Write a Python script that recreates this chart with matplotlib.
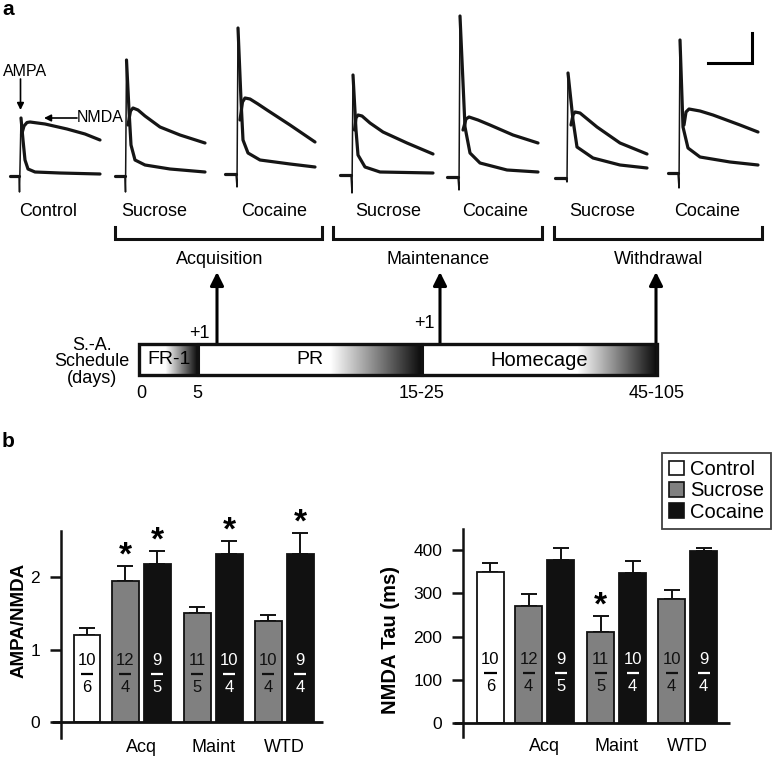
import numpy as np
import matplotlib
matplotlib.use("Agg")
import matplotlib.pyplot as plt
from matplotlib.patches import Patch, Rectangle
from matplotlib.transforms import blended_transform_factory

plt.rcParams['font.family'] = ['Liberation Sans', 'DejaVu Sans']

# ---- panel b data ----
groups = ["Control", "Sucrose", "Cocaine", "Sucrose", "Cocaine", "Sucrose", "Cocaine"]
phases = ["Acq", "Maint", "WTD"]
ampa_nmda = [1.20, 1.95, 2.18, 1.50, 2.31, 1.39, 2.31]
ampa_nmda_sem = [0.10, 0.20, 0.18, 0.09, 0.18, 0.08, 0.30]
nmda_tau = [350, 270, 378, 212, 347, 286, 398]
nmda_tau_sem = [20, 29, 27, 36, 27, 22, 7]
n_cells = ["10", "12", "9", "11", "10", "10", "9"]
n_animals = ["6", "4", "5", "5", "4", "4", "4"]
stars_ampa = [1, 2, 4, 6]
stars_tau = [3]

# ---- panel a example traces (pixel units) ----
# each trace: baseline, stimulus/spike, fast (AMPA) decay, slow (NMDA) decay
tr_control = ([(10, 176), (19, 176)], [(19, 176), (19.5, 192), (21, 118)],
              [(21, 118), (23, 140), (25, 160), (28, 169), (35, 172), (60, 173), (100, 174)],
              [(21.5, 135), (24, 126), (27, 122.5), (30, 122), (45, 124), (67, 129),
               (85, 134), (100, 140)])
tr_suc_acq = ([(115, 176), (125, 176)], [(125, 176), (125.5, 192), (126.5, 60)],
              [(126.5, 60), (129, 110), (131, 145), (135, 160), (145, 165), (170, 169), (205, 172)],
              [(128, 125), (130.5, 111), (133, 108), (138, 110), (145, 116), (160, 127),
               (180, 135), (205, 143)])
tr_coc_acq = ([(225, 174), (236, 174)], [(236, 174), (237, 187), (238, 28)],
              [(238, 28), (241, 100), (243, 140), (248, 153), (260, 160), (290, 164), (315, 167)],
              [(240, 120), (242.5, 102), (245, 98), (250, 99), (258, 104), (267, 110),
               (290, 125), (315, 142)])
tr_suc_mnt = ([(340, 175), (351, 175)], [(351, 175), (352, 193), (353, 75)],
              [(353, 75), (356, 130), (358, 155), (365, 167), (380, 172), (433, 173)],
              [(354.5, 130), (356, 118), (358, 115), (362, 116), (370, 123), (383, 132),
               (407, 143), (433, 154)])
tr_coc_mnt = ([(447, 177), (458, 177)], [(458, 177), (459, 190), (460, 16)],
              [(460, 16), (465, 127), (470, 153), (480, 163), (507, 170), (538, 172)],
              [(463, 130), (466, 119), (469, 117), (478, 120), (490, 125), (513, 135),
               (538, 143)])
tr_suc_wtd = ([(555, 178), (566, 178)], [(566, 178), (567, 182), (568, 73)],
              [(568, 73), (573, 120), (577, 147), (593, 158), (620, 165), (647, 168)],
              [(571, 125), (573, 115), (575, 112), (580, 113), (597, 127), (620, 143),
               (647, 154)])
tr_coc_wtd = ([(668, 173), (678, 173)], [(678, 173), (679, 188), (680, 40)],
              [(680, 40), (683, 127), (688, 148), (700, 157), (730, 162), (758, 165)],
              [(684, 125), (686, 112), (689, 109), (700, 111), (713, 115), (740, 125),
               (758, 132)])
traces = [tr_control, tr_suc_acq, tr_coc_acq, tr_suc_mnt, tr_coc_mnt, tr_suc_wtd, tr_coc_wtd]

trace_labels = ["Control", "Sucrose", "Cocaine", "Sucrose", "Cocaine", "Sucrose", "Cocaine"]
trace_label_x = [48, 154, 274, 388, 495, 602, 707]
bracket_spans = [(115, 322), (333, 542), (554, 762)]
bracket_labels = ["Acquisition", "Maintenance", "Withdrawal"]
arrow_x = [217, 440, 656]
seg_edges = [139, 198, 422, 657]
seg_fade_start = [165, 330, 577]
seg_labels = ["FR-1", "PR", "Homecage"]
day_labels = ["0", "5", "15-25", "45-105"]
day_x = [141, 197, 422, 657]

colors = {"Control": "white", "Sucrose": "#808080", "Cocaine": "#111111"}
text_colors = {"Control": "black", "Sucrose": "#111111", "Cocaine": "white"}

fig = plt.figure(figsize=(7.72, 7.57), dpi=100)

# ---------------- panel a (diagram in pixel space) ----------------
ax0 = fig.add_axes([0, 0, 1, 1], facecolor='none')
for base, spike, fast, slow in traces:
    for seg, lw in ((base, 2.3), (spike, 1.1), (fast, 2.3), (slow, 2.3)):
        xs, ys = zip(*seg)
        ax0.plot(xs, ys, color='#151515', lw=lw, solid_joinstyle='round',
                 solid_capstyle='round')

ax0.text(2, 15, "a", fontsize=15, fontweight='bold', ha='left', va='baseline')
ax0.text(25, 72, "AMPA", fontsize=11.5, ha='center', va='center')
ax0.annotate('', xy=(20.5, 110), xytext=(20.5, 79),
             arrowprops=dict(arrowstyle='-|>', lw=1.2, color='k', mutation_scale=10,
                             shrinkA=0, shrinkB=0))
ax0.text(100, 118, "NMDA", fontsize=11.5, ha='center', va='center')
ax0.annotate('', xy=(44, 118), xytext=(77, 118),
             arrowprops=dict(arrowstyle='-|>', lw=1.2, color='k', mutation_scale=10,
                             shrinkA=0, shrinkB=0))
# scale bar
ax0.plot([708, 752, 752], [63, 63, 33], color='k', lw=2.2, solid_joinstyle='miter')

for lab, x in zip(trace_labels, trace_label_x):
    ax0.text(x, 211, lab, fontsize=13, ha='center', va='center')
for (x0, x1), lab in zip(bracket_spans, bracket_labels):
    ax0.plot([x0, x0, x1, x1], [227, 239, 239, 227], color='#111111', lw=2.2,
             solid_joinstyle='miter')
    ax0.text((x0 + x1) / 2 + 1, 259, lab, fontsize=13, ha='center', va='center')
for x in arrow_x:
    ax0.annotate('', xy=(x, 272), xytext=(x, 344),
                 arrowprops=dict(arrowstyle='-|>', lw=2.2, color='k', mutation_scale=20,
                                 shrinkA=0, shrinkB=0))
ax0.text(199, 333, "+1", fontsize=13, ha='center', va='center')
ax0.text(424, 323, "+1", fontsize=13, ha='center', va='center')

# schedule bar with fading segments
top, bot = 344, 375
for i in range(3):
    x0, x1 = seg_edges[i], seg_edges[i + 1]
    xf = seg_fade_start[i]
    n_white = int(round(xf - x0))
    n_fade = int(round(x1 - xf))
    g = np.concatenate([np.ones(n_white), np.linspace(1, 0.05, n_fade)])[None, :]
    ax0.imshow(g, extent=(x0, x1, bot, top), cmap='gray', vmin=0, vmax=1,
               aspect='auto', interpolation='bilinear', zorder=1)
    ax0.text((x0 + x1) / 2 + (0 if i else 1), 360, seg_labels[i],
             fontsize=14.5 if i == 2 else 14, ha='center', va='center', zorder=3)
ax0.add_patch(Rectangle((seg_edges[0], top), seg_edges[-1] - seg_edges[0], bot - top,
                        fill=False, lw=2.4, ec='#111111', zorder=4))
for x in seg_edges[1:-1]:
    ax0.plot([x, x], [top, bot], color='#111111', lw=2.2, zorder=4)
for lab, x in zip(day_labels, day_x):
    ax0.text(x, 394, lab, fontsize=13, ha='center', va='center')
ax0.text(92, 362, "S.-A.\nSchedule\n(days)", fontsize=13, ha='center', va='center',
         linespacing=0.95)
ax0.text(2, 447, "b", fontsize=15, fontweight='bold', ha='left', va='baseline')

ax0.set_xlim(0, 772)
ax0.set_ylim(757, 0)
ax0.axis('off')

# ---------------- panel b (bar charts) ----------------
group_centers = [1.97, 4.59, 7.17]
pair_off = 0.58
positions = [0.0]
for c in group_centers:
    positions += [c - pair_off, c + pair_off]
bar_w = 0.98


def bar_panel(rect, xlim, ylim, means, sems, stars, yticks, ylabel, ylab_xy, ylab_size):
    ax = fig.add_axes(rect, facecolor='none')
    bar_cols = [colors[g] for g in groups]
    ax.bar(positions, means, width=bar_w, color=bar_cols, edgecolor='#111111',
           linewidth=1.3, zorder=3)
    lower = [0] * len(means)
    ax.errorbar(positions, means, yerr=[lower, sems], fmt='none', ecolor='#111111',
                elinewidth=1.4, capsize=6, capthick=1.4, zorder=2)
    tr = blended_transform_factory(ax.transData, ax.transAxes)
    for i, x in enumerate(positions):
        tc = text_colors[groups[i]]
        ax.text(x, 0.372, n_cells[i], transform=tr, ha='center', va='center',
                fontsize=12, color=tc, zorder=5)
        ax.text(x, 0.243, n_animals[i], transform=tr, ha='center', va='center',
                fontsize=12, color=tc, zorder=5)
        ax.plot([x - 0.22, x + 0.22], [0.309, 0.309], transform=tr, color=tc,
                lw=1.6, zorder=5, solid_capstyle='butt')
    for i in stars:
        ax.annotate('*', xy=(positions[i], means[i] + sems[i]), xytext=(0, -4),
                    textcoords='offset points', ha='center', va='bottom',
                    fontsize=24, fontweight='bold', annotation_clip=False)
    ax.set_xlim(*xlim)
    ax.set_ylim(*ylim)
    # x axis line at zero, extending slightly left of the y spine
    span = xlim[1] - xlim[0]
    ax.plot([xlim[0] - 0.034 * span, xlim[1]], [0, 0], color='#111111', lw=2.0,
            clip_on=False, zorder=4, solid_capstyle='butt')
    for s in ('top', 'right', 'bottom'):
        ax.spines[s].set_visible(False)
    ax.spines['left'].set_linewidth(1.8)
    ax.spines['left'].set_color('#111111')
    ax.set_yticks(yticks)
    ax.tick_params(axis='y', direction='out', length=8, width=1.8, pad=7,
                   labelsize=12.5, color='#111111')
    ax.set_xticks(group_centers)
    ax.set_xticklabels(phases, fontsize=13)
    ax.tick_params(axis='x', length=0, pad=1)
    fig.text(ylab_xy[0] / 772, 1 - ylab_xy[1] / 757, ylabel, rotation=90,
             ha='center', va='center', fontsize=ylab_size, fontweight='bold')
    return ax


bar_panel([61 / 772, 1 - 738 / 757, 262 / 772, 207 / 757], (-0.945, 8.58), (-0.22, 2.634),
          ampa_nmda, ampa_nmda_sem, stars_ampa, [0, 1, 2], "AMPA/NMDA", (19, 620), 13.5)
bar_panel([463 / 772, 1 - 737 / 757, 267 / 772, 208 / 757], (-1.0, 8.71), (-31.6, 448.7),
          nmda_tau, nmda_tau_sem, stars_tau, [0, 100, 200, 300, 400], "NMDA Tau (ms)",
          (390, 640), 14.5)

handles = [Patch(facecolor=colors[k], edgecolor='#111111', lw=1.2)
           for k in ("Control", "Sucrose", "Cocaine")]
leg = fig.legend(handles, ["Control", "Sucrose", "Cocaine"], loc='upper right',
                 bbox_to_anchor=(771 / 772, 1 - 453 / 757), fontsize=14.5, frameon=True,
                 fancybox=False, edgecolor='#111111', handlelength=0.75, handleheight=0.75,
                 handletextpad=0.3, labelspacing=0.12, borderpad=0.35, borderaxespad=0)
leg.get_frame().set_linewidth(1.3)

fig.savefig("out.png", dpi=100)
